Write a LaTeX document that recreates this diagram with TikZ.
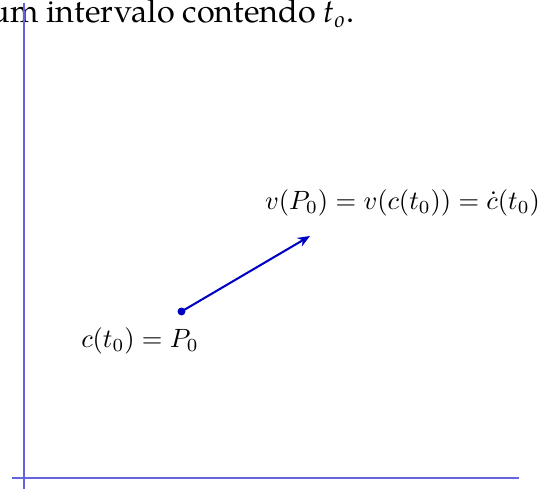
\documentclass[tikz,border=0pt]{standalone}
\usepackage{fontspec}
\usepackage{graphicx}
\newfontfamily\palfont{TeX Gyre Pagella}
\usetikzlibrary{arrows.meta}
\definecolor{axiscol}{RGB}{100,100,225}
\definecolor{veccol}{RGB}{0,0,195}
\begin{document}
\begin{tikzpicture}[x=0.365pt,y=-0.365pt,
  axis/.style={draw=axiscol,line width=0.6pt},
  vec/.style={draw=veccol,line width=0.75pt,-{Stealth[length=4.5pt,width=3.6pt]}},
  lbl/.style={inner sep=0pt}]
\useasboundingbox (0,0) rectangle (548,489);
\clip (0,0) rectangle (548,489);
\node[anchor=base west,inner sep=0pt,font=\palfont\fontsize{11.8}{14}\selectfont] (title) at (-10,22.5) {um intervalo contendo \textit{t}\textsubscript{\textit{o}}.};
\coordinate (ytop) at (24.3,3);
\coordinate (ybot) at (24.3,489);
\coordinate (xl) at (12.3,477.7);
\coordinate (xr) at (518.7,477.7);
\draw[axis] (ytop) -- (ybot);
\draw[axis] (xl) -- (xr);
\node[circle,fill=veccol,inner sep=0pt,minimum size=2.9pt] (p) at (181.5,311.5) {};
\coordinate (tip) at (310,236);
\draw[vec] (p.center) -- (tip);
\node[lbl] (vlab) at (402.5,203) {\scalebox{0.965}{$v(P_0)=v(c(t_0))=\dot{c}(t_0)$}};
\node[lbl] (clab) at (140,341) {\scalebox{0.965}{$c(t_0)=P_0$}};
\end{tikzpicture}
\end{document}
